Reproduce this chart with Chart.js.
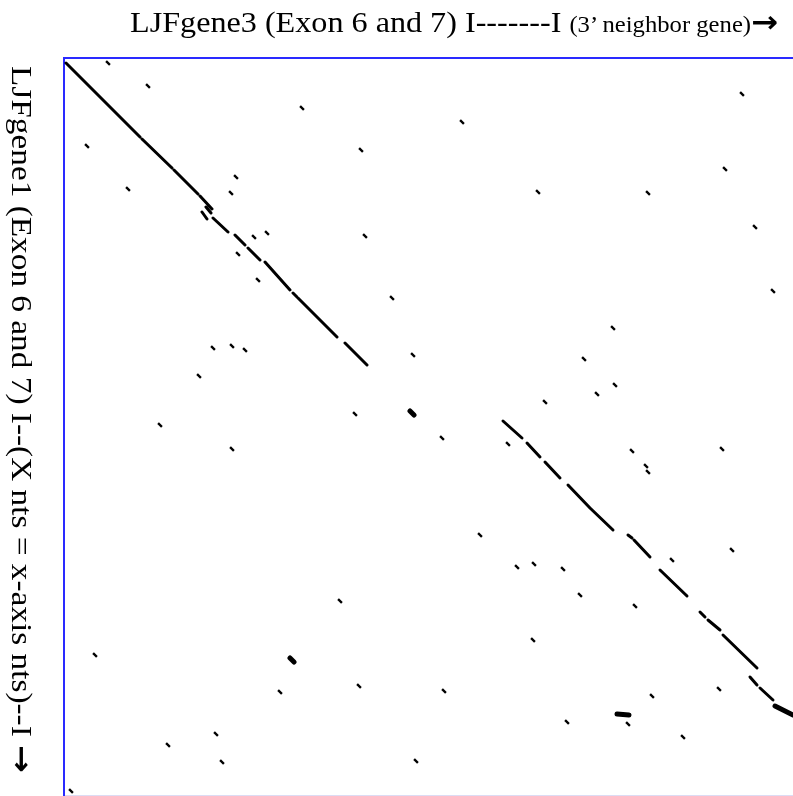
<!DOCTYPE html>
<html>
<head>
<meta charset="utf-8">
<script src="https://cdn.jsdelivr.net/npm/chart.js@4.4.1/dist/chart.umd.min.js"></script>
<style>
  html, body { margin: 0; padding: 0; background: #fff; }
  #wrap { position: relative; width: 793px; height: 796px; overflow: hidden; }
  #plot { position: absolute; left: 0; top: 0; }
  #topTitle {
    position: absolute; left: 130px; top: 4px; white-space: nowrap;
    font-family: "Liberation Serif", serif; color: #000; transform-origin: 0 0;
  }
  #topTitle .big { font-size: 30px; }
  #topTitle .small { font-size: 23px; }
  .arrow { font-family: "DejaVu Sans", sans-serif; font-weight: bold; }
  #sideTitle {
    position: absolute; left: 5px; top: 66px; white-space: nowrap;
    writing-mode: vertical-rl; font-family: "Liberation Serif", serif;
    font-size: 29px; color: #000; transform-origin: 0 0;
  }
</style>
</head>
<body>
<div id="wrap">
  <canvas id="plot" width="793" height="796"></canvas>
  <div id="topTitle"><span class="big">LJFgene3 (Exon 6 and 7) I-------I </span><span class="small">(3’ neighbor gene)</span><span class="big arrow">→</span></div>
  <div id="sideTitle">LJFgene1 (Exon 6 and 7) I--(X nts = x-axis nts)--I <span class="arrow">→</span></div>
</div>
<script>
// x = LJFgene3 position, y = LJFgene1 position
const mainDiagonal = [
    [2, 5, 76, 79], [78, 81, 108, 110], [110, 112, 134, 136], [136, 138, 148, 151],
    [138, 154, 143, 161], [142, 149, 147, 155], [149, 160, 164, 174],
    [171, 177, 181, 187], [184, 190, 196, 202], [201, 204, 226, 232],
    [229, 235, 233, 239], [234, 240, 273, 279], [281, 285, 303, 307]
];
const neighborDiagonal = [
    [439, 363, 458, 380], [463, 385, 476, 399], [481, 404, 496, 420],
    [504, 427, 526, 450], [526, 450, 549, 472], [564, 477, 568, 480],
    [570, 482, 586, 499], [596, 512, 623, 538], [636, 554, 641, 559],
    [644, 562, 656, 572], [659, 577, 693, 610], [686, 619, 693, 627],
    [696, 630, 709, 642]
];
const thickHits = [
    [711, 648, 729, 657], [553, 656, 565, 657], [346, 353, 350, 357], [226, 600, 230, 604]
];
const dotX = [44, 84, 23, 64, 172, 167, 190, 203, 174, 194, 301, 149, 168, 181, 135, 238, 297,
    678, 398, 661, 474, 584, 691, 328, 709, 549, 349, 520, 551, 533, 481, 378, 444, 568, 658,
    582, 584, 291, 96, 168, 416, 453, 470, 499, 516, 608, 668, 571, 276, 469, 31, 216, 295,
    380, 588, 655, 503, 564, 619, 152, 104, 158, 352, 7];
const dotY = [5, 28, 88, 131, 119, 135, 179, 175, 196, 222, 178, 290, 288, 292, 318, 50, 92,
    36, 64, 111, 134, 135, 169, 240, 233, 270, 297, 301, 327, 336, 344, 380, 386, 393, 391,
    408, 414, 356, 367, 391, 477, 509, 506, 511, 537, 502, 492, 548, 543, 582, 597, 634, 628,
    633, 638, 631, 664, 666, 679, 676, 687, 704, 703, 733];

function toLine(segs) {
    return segs.flatMap(s => [{x: s[0], y: s[1]}, {x: s[2], y: s[3]}, {x: s[2], y: null}]);
}

const blue = '#2a2aff';
const noSize = function(scale) { scale.width = 0; scale.height = 0; };

new Chart(document.getElementById('plot'), {
    type: 'scatter',
    data: {
        datasets: [
            {
                label: 'LJFgene1 vs LJFgene3',
                data: toLine(mainDiagonal),
                showLine: true, spanGaps: false,
                borderColor: '#000', borderWidth: 3, borderCapStyle: 'round',
                pointRadius: 0
            },
            {
                label: 'LJFgene1 vs 3\' neighbor',
                data: toLine(neighborDiagonal),
                showLine: true, spanGaps: false,
                borderColor: '#000', borderWidth: 3, borderCapStyle: 'round',
                pointRadius: 0
            },
            {
                label: 'strong hits',
                data: toLine(thickHits),
                showLine: true, spanGaps: false,
                borderColor: '#000', borderWidth: 5, borderCapStyle: 'round',
                pointRadius: 0
            },
            {
                label: 'dots',
                data: dotX.map((x, i) => ({x: x, y: dotY[i]})),
                pointStyle: 'line', rotation: 45,
                pointRadius: 2.7, borderWidth: 2.3,
                borderColor: '#000', backgroundColor: '#000'
            }
        ]
    },
    options: {
        responsive: false,
        animation: false,
        events: [],
        layout: { autoPadding: false, padding: { left: 64, top: 58, right: 0, bottom: 1 } },
        plugins: { legend: { display: false }, tooltip: { enabled: false } },
        scales: {
            x: {
                type: 'linear', position: 'top', min: 0, max: 729,
                grid: { display: false }, ticks: { display: false },
                border: { display: true, color: blue, width: 2 },
                afterFit: noSize
            },
            xb: {
                type: 'linear', position: 'bottom', min: 0, max: 729,
                grid: { display: false }, ticks: { display: false },
                border: { display: true, color: '#dcdcf4', width: 1 },
                afterFit: noSize
            },
            y: {
                type: 'linear', position: 'left', min: 0, max: 737, reverse: true,
                grid: { display: false }, ticks: { display: false },
                border: { display: true, color: blue, width: 2 },
                afterFit: noSize
            }
        }
    }
});

// stretch the two titles to the spans they occupy in the figure
const topTitle = document.getElementById('topTitle');
topTitle.style.transform = 'scaleX(' + (648 / topTitle.getBoundingClientRect().width) + ')';
const sideTitle = document.getElementById('sideTitle');
sideTitle.style.transform = 'scaleY(' + (707 / sideTitle.getBoundingClientRect().height) + ')';
</script>
</body>
</html>
